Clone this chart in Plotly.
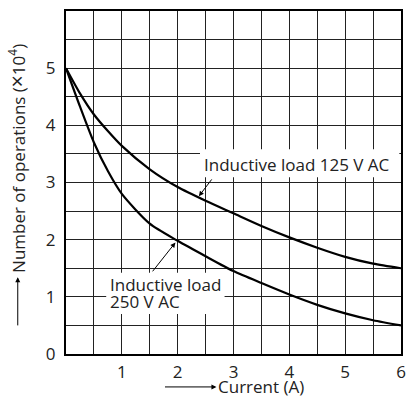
import plotly.graph_objects as go

# Data
current_a = [0, 0.25, 0.5, 0.75, 1, 1.5, 2, 2.5, 3, 3.5, 4, 4.5, 5, 5.5, 6]
ops_125v = [5.0, 4.56, 4.19, 3.9, 3.64, 3.23, 2.92, 2.68, 2.46, 2.24, 2.04, 1.86, 1.70, 1.58, 1.5]
ops_250v = [5.0, 4.33, 3.7, 3.2, 2.8, 2.28, 1.98, 1.71, 1.45, 1.24, 1.04, 0.86, 0.71, 0.59, 0.5]
x_ticks = [1, 2, 3, 4, 5, 6]
y_ticks = [0, 1, 2, 3, 4, 5]

FONT = "Open Sans"
FS = 17
fig = go.Figure()
for ys in (ops_125v, ops_250v):
    fig.add_trace(go.Scatter(x=current_a, y=ys, mode="lines",
                             line=dict(color="black", width=2.2, shape="spline", smoothing=0.7),
                             showlegend=False, hoverinfo="skip"))

grid_col = "#222222"
fig.update_xaxes(range=[0, 6], tickvals=x_ticks, ticktext=[str(v) for v in x_ticks],
                 showgrid=True, gridcolor=grid_col, gridwidth=1,
                 minor=dict(dtick=0.5, tick0=0, showgrid=True, gridcolor=grid_col, gridwidth=1),
                 showline=True, linecolor="black", linewidth=2, mirror=True,
                 zeroline=False, ticks="", ticklabelstandoff=2,
                 tickfont=dict(family=FONT, size=FS, color="#222"))
fig.update_yaxes(range=[0, 6], tickvals=y_ticks, ticktext=[str(v) for v in y_ticks],
                 showgrid=True, gridcolor=grid_col, gridwidth=1,
                 minor=dict(dtick=0.5, tick0=0, showgrid=True, gridcolor=grid_col, gridwidth=1),
                 showline=True, linecolor="black", linewidth=2, mirror=True,
                 zeroline=False, ticks="", ticklabelstandoff=5,
                 tickfont=dict(family=FONT, size=FS, color="#222"))

# White boxes behind the curve labels (between grid and curves)
fig.add_shape(type="rect", x0=2.40, x1=5.97, y0=3.09, y1=3.58, xref="x", yref="y",
              fillcolor="white", line=dict(width=0), layer="between")
fig.add_shape(type="rect", x0=0.72, x1=2.84, y0=0.70, y1=1.42, xref="x", yref="y",
              fillcolor="white", line=dict(width=0), layer="between")

tfont = dict(family=FONT, size=FS, color="#222")
ann = []
# Curve labels
ann.append(dict(x=2.43, y=3.32, xref="x", yref="y", text="Inductive load 125 V AC",
                showarrow=False, xanchor="left", yanchor="middle", font=tfont))
ann.append(dict(x=0.76, y=1.22, xref="x", yref="y", text="Inductive load",
                showarrow=False, xanchor="left", yanchor="middle", font=tfont))
ann.append(dict(x=0.76, y=0.92, xref="x", yref="y", text="250 V AC",
                showarrow=False, xanchor="left", yanchor="middle", font=tfont))
# Pointer arrows
ann.append(dict(x=2.38, y=2.76, ax=2.63, ay=3.08, xref="x", yref="y", axref="x", ayref="y",
                text="", showarrow=True, arrowhead=2, arrowsize=1, arrowwidth=1, arrowcolor="black"))
ann.append(dict(x=1.96, y=1.95, ax=1.53, ay=1.42, xref="x", yref="y", axref="x", ayref="y",
                text="", showarrow=True, arrowhead=2, arrowsize=1, arrowwidth=1, arrowcolor="black"))
# Axis titles with arrows
ann.append(dict(x=-0.147, y=0.571, xref="paper", yref="paper",
                text="Number of operations (<span style='font-size:21px'>×</span>10<sup>4</sup>)",
                textangle=-90, showarrow=False, xanchor="center", yanchor="middle", font=tfont))
ann.append(dict(x=-0.144, y=0.224, ax=-0.144, ay=0.079, xref="x domain", yref="y domain",
                axref="x domain", ayref="y domain", text="", showarrow=True, arrowhead=2,
                arrowsize=1, arrowwidth=1, arrowcolor="black"))
ann.append(dict(x=0.582, y=-0.096, xref="paper", yref="paper", text="Current (A)",
                showarrow=False, xanchor="center", yanchor="middle", font=tfont))
ann.append(dict(x=0.449, y=-0.096, ax=0.291, ay=-0.096, xref="x domain", yref="y domain",
                axref="x domain", ayref="y domain", text="", showarrow=True, arrowhead=2,
                arrowsize=1, arrowwidth=1, arrowcolor="black"))

fig.update_layout(width=412, height=401, margin=dict(l=66, r=6, t=11, b=47),
                  plot_bgcolor="white", paper_bgcolor="white", annotations=ann,
                  font=dict(family=FONT))
fig.write_html("out.html", config={"displayModeBar": False},
               post_script="document.body.style.margin='0';")
